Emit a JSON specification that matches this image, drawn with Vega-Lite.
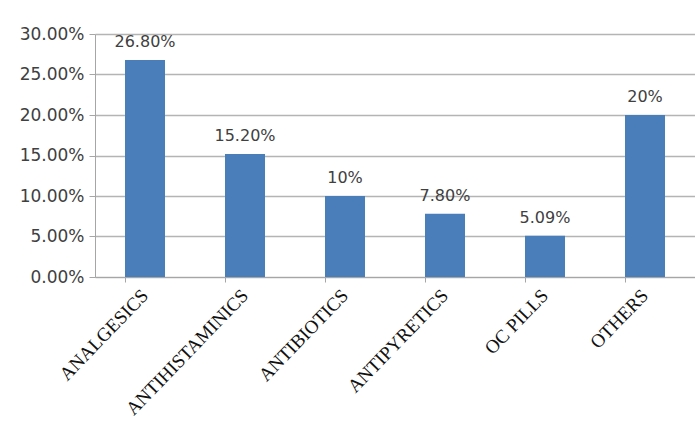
{
  "$schema": "https://vega.github.io/schema/vega-lite/v6.json",
  "width": 600,
  "height": 243,
  "autosize": "none",
  "padding": {"left": 95, "top": 34, "right": 0, "bottom": 164},
  "background": "white",
  "config": {"view": {"stroke": null}},
  "data": {"values": [
    {"category": "ANALGESICS", "value": 0.268, "label": "26.80%"},
    {"category": "ANTIHISTAMINICS", "value": 0.152, "label": "15.20%"},
    {"category": "ANTIBIOTICS", "value": 0.10, "label": "10%"},
    {"category": "ANTIPYRETICS", "value": 0.078, "label": "7.80%"},
    {"category": "OC PILLS", "value": 0.0509, "label": "5.09%"},
    {"category": "OTHERS", "value": 0.20, "label": "20%"}
  ]},
  "encoding": {
    "x": {"field": "category", "type": "nominal", "sort": null,
      "scale": {"paddingInner": 0.6, "paddingOuter": 0.3},
      "axis": {"title": null, "labelAngle": -46, "labelFont": "Liberation Serif", "labelFontSize": 19,
        "labelColor": "#111111", "labelAlign": "right", "labelBaseline": "middle", "labelPadding": 10,
        "bandPosition": 0, "domainColor": "#a6a6a6", "tickColor": "#a6a6a6", "tickSize": 5, "labelOffset": 0}},
    "y": {"field": "value", "type": "quantitative",
      "scale": {"domain": [0, 0.3], "nice": false},
      "axis": {"title": null, "format": ".2%", "values": [0, 0.05, 0.1, 0.15, 0.2, 0.25, 0.3],
        "labelFont": "DejaVu Sans", "labelFontSize": 17, "labelColor": "#404040", "labelPadding": 5,
        "gridColor": "#b4b4b4", "gridWidth": 1.3, "domainColor": "#a6a6a6", "tickColor": "#a6a6a6", "tickSize": 6}}
  },
  "layer": [
    {"mark": {"type": "bar", "color": "#4a7ebb"}},
    {"mark": {"type": "text", "dy": -18, "font": "DejaVu Sans", "fontSize": 16, "color": "#404040"},
      "encoding": {"text": {"field": "label", "type": "nominal"}}}
  ]
}
